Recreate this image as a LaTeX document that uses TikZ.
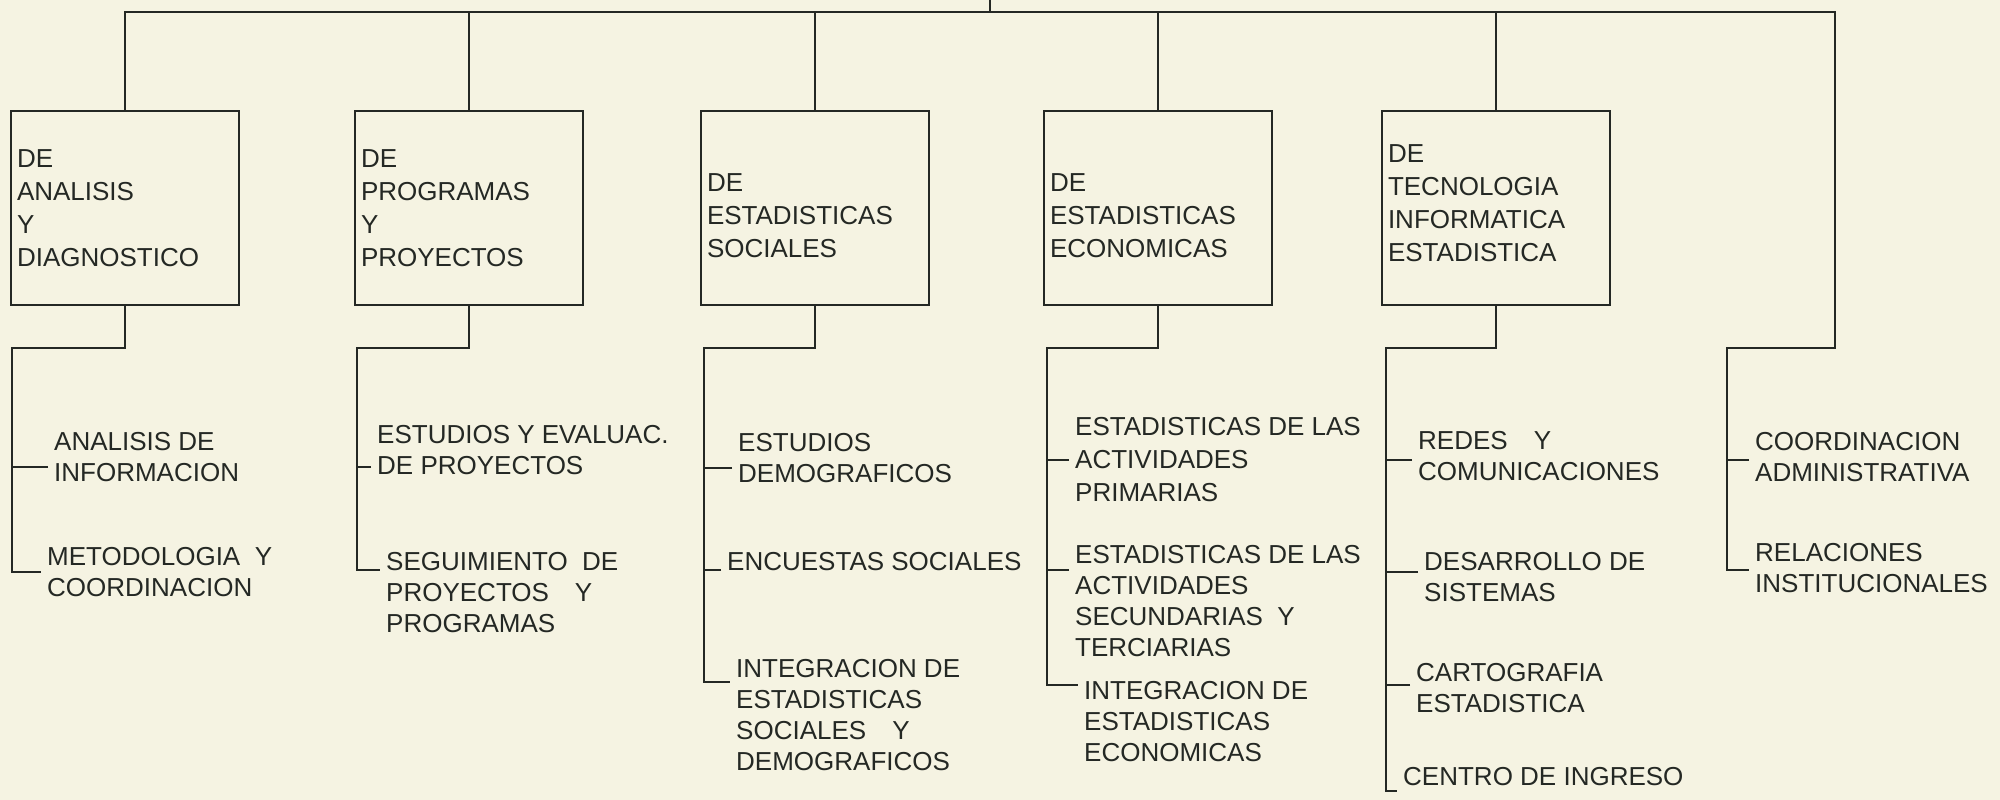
\documentclass[tikz,border=0pt]{standalone}
\usepackage{fontspec}
\setmainfont{Liberation Sans}
\definecolor{paper}{RGB}{245,243,226}
\definecolor{ink}{RGB}{36,40,36}

\begin{document}
\begin{tikzpicture}[x=1pt, y=-1pt,
		unit/.style={shape=rectangle, draw=ink, line width=2pt, text width=216pt, inner xsep=6pt, minimum height=194pt, align=left, text=ink, font=\fontsize{26}{33}\selectfont},
		item/.style={anchor=west, inner sep=6pt, align=left, text=ink, font=\fontsize{26}{31}\selectfont},
		wire/.style={draw=ink, line width=2.8pt}]
	\fill[paper] (0, 0) rectangle (2000, 800);
	\useasboundingbox (0, 0) rectangle (2000, 800);

	% units
	\node[unit] (u1) at (125, 208){DE\\ANALISIS\\Y\\DIAGNOSTICO};
	\node[unit] (u2) at (469, 208){DE\\PROGRAMAS\\Y\\PROYECTOS};
	\node[unit] (u3) at (815, 208){\rule{0pt}{33pt}DE\\ESTADISTICAS\\SOCIALES};
	\node[unit] (u4) at (1158, 208){\rule{0pt}{33pt}DE\\ESTADISTICAS\\ECONOMICAS};
	\node[unit] (u5) at (1496, 208){DE\\TECNOLOGIA\\INFORMATICA\\ESTADISTICA\rule[-10pt]{0pt}{10pt}};

	% sections
	\node[item] (a11) at (48, 457){ANALISIS DE\\INFORMACION};
	\node[item] (a12) at (41, 572){METODOLOGIA\ \ Y\\COORDINACION};
	\node[item] (a21) at (371, 450){ESTUDIOS Y EVALUAC.\\DE PROYECTOS};
	\node[item] (a22) at (380, 593){SEGUIMIENTO\ \ DE\\PROYECTOS\quad Y\\PROGRAMAS};
	\node[item] (a31) at (732, 458){ESTUDIOS\\DEMOGRAFICOS};
	\node[item] (a32) at (721, 562){ENCUESTAS SOCIALES};
	\node[item] (a33) at (730, 715){INTEGRACION DE\\ESTADISTICAS\\SOCIALES\quad Y\\DEMOGRAFICOS};
	\node[item, font=\fontsize{26}{33}\selectfont] (a41) at (1069, 460){ESTADISTICAS DE LAS\\ACTIVIDADES\\PRIMARIAS};
	\node[item] (a42) at (1069, 601){ESTADISTICAS DE LAS\\ACTIVIDADES\\SECUNDARIAS\ \ Y\\TERCIARIAS};
	\node[item] (a43) at (1078, 722){INTEGRACION DE\\ESTADISTICAS\\ECONOMICAS};
	\node[item] (a51) at (1412, 456){REDES\quad Y\\COMUNICACIONES};
	\node[item] (a52) at (1418, 577){DESARROLLO DE\\SISTEMAS};
	\node[item] (a53) at (1410, 688){CARTOGRAFIA\\ESTADISTICA};
	\node[item] (a54) at (1397, 777){CENTRO DE INGRESO};
	\node[item] (a61) at (1749, 457){COORDINACION\\ADMINISTRATIVA};
	\node[item] (a62) at (1749, 568){RELACIONES\\INSTITUCIONALES};

	% top line
	\coordinate (top) at (990, 0);
	\coordinate (bar) at (990, 12);
	\coordinate (r0) at (1835, 12);
	\coordinate (j1) at (12, 348);
	\coordinate (j2) at (357, 348);
	\coordinate (j3) at (704, 348);
	\coordinate (j4) at (1047, 348);
	\coordinate (j5) at (1386, 348);
	\coordinate (j6) at (1727, 348);

	\draw[wire] (top) -- (bar);
	\draw[wire] (u1.north) |- (r0) |- (j6) |- ([yshift=-2pt]a62.west);
	\draw[wire] (u2.north) -- (u2.north |- bar);
	\draw[wire] (u3.north) -- (u3.north |- bar);
	\draw[wire] (u4.north) -- (u4.north |- bar);
	\draw[wire] (u5.north) -- (u5.north |- bar);

	% down to the sections
	\draw[wire] (u1.south) |- (j1) |- (a12.west);
	\draw[wire] (u2.south) |- (j2) |- ([yshift=23pt]a22.west);
	\draw[wire] (u3.south) |- (j3) |- ([yshift=33pt]a33.west);
	\draw[wire] (u4.south) |- (j4) |- ([yshift=37pt]a43.west);
	\draw[wire] (u5.south) |- (j5) |- ([yshift=-14pt]a54.west);

	\draw[wire] ([yshift=-10pt]a11.west) -- ([yshift=-10pt]a11.west -| j1);
	\draw[wire] ([yshift=-17pt]a21.west) -- ([yshift=-17pt]a21.west -| j2);
	\draw[wire] ([yshift=-10pt]a31.west) -- ([yshift=-10pt]a31.west -| j3);
	\draw[wire] ([yshift=-8pt]a32.west) -- ([yshift=-8pt]a32.west -| j3);
	\draw[wire] (a41.west) -- (a41.west -| j4);
	\draw[wire] ([yshift=31pt]a42.west) -- ([yshift=31pt]a42.west -| j4);
	\draw[wire] ([yshift=-4pt]a51.west) -- ([yshift=-4pt]a51.west -| j5);
	\draw[wire] ([yshift=5pt]a52.west) -- ([yshift=5pt]a52.west -| j5);
	\draw[wire] ([yshift=3pt]a53.west) -- ([yshift=3pt]a53.west -| j5);
	\draw[wire] ([yshift=-3pt]a61.west) -- ([yshift=-3pt]a61.west -| j6);
\end{tikzpicture}
\end{document}
